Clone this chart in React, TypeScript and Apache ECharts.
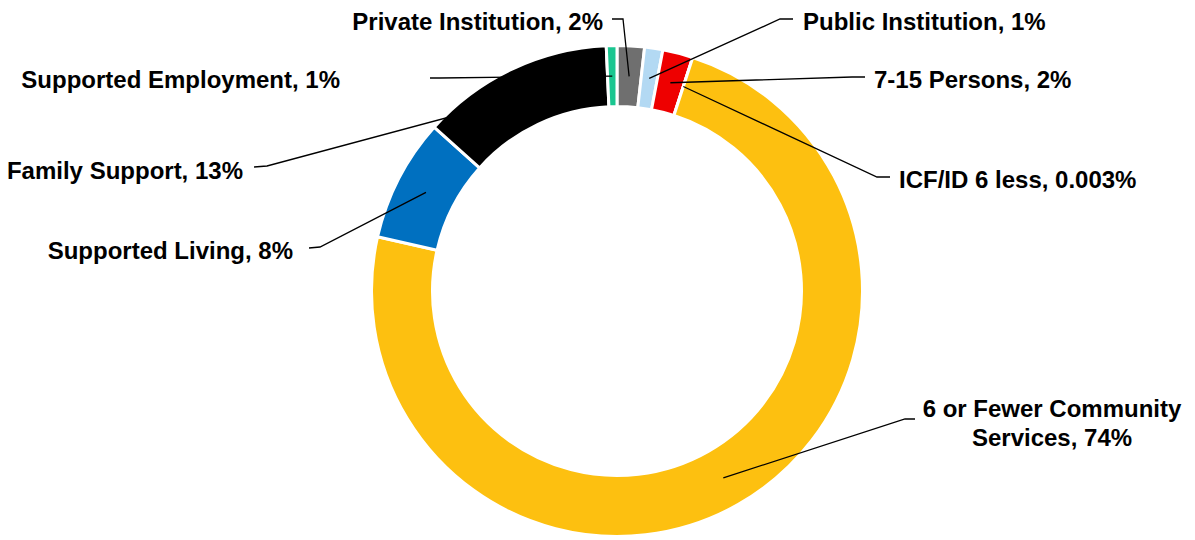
import React, { useEffect, useRef } from 'react';
import * as echarts from 'echarts';

// ---- data ----
const categories = [
  'Private Institution',
  'Public Institution',
  '7-15 Persons',
  'ICF/ID 6 less',
  '6 or Fewer Community Services',
  'Supported Living',
  'Family Support',
  'Supported Employment',
];
// slice shares (percent) as read from the ring
const values = [1.8, 1.2, 2.0, 0.003, 73.7, 8.1, 12.7, 0.7];
// percentages as printed in the labels
const percentLabels = ['2%', '1%', '2%', '0.003%', '74%', '8%', '13%', '1%'];
const colors = ['#6f6f6f', '#b3d9f3', '#ee0000', '#a5a5a5', '#fdc010', '#0070c0', '#000000', '#1ac690'];

// ---- layout (label placement, not data) ----
const CX = 617;
const CY = 291;
const R_IN = 184.5;
const R_OUT = 245.5;
const R_ANCHOR = 215;

type LL = { x: number; y: number; align: string; elbow: number[][]; wrap?: boolean };
const labelLayouts: LL[] = [
  { x: 603, y: 21, align: 'right', elbow: [[623, 19], [612, 19]] },
  { x: 803, y: 21, align: 'left', elbow: [[780, 19], [793, 19]] },
  { x: 874, y: 79, align: 'left', elbow: [[852, 77], [865, 77]] },
  { x: 899, y: 179, align: 'left', elbow: [[877, 177], [890, 177]] },
  { x: 1052, y: 423, align: 'center', elbow: [[905, 419], [915, 419]], wrap: true },
  { x: 293, y: 250, align: 'right', elbow: [[320, 247], [309, 248]] },
  { x: 243, y: 170, align: 'right', elbow: [[267, 166], [254, 167]] },
  { x: 340, y: 79, align: 'right', elbow: [[440, 78], [430, 78]] },
];

function fallbackOuterPoint(i: number): number[] {
  const total = values.reduce((a, b) => a + b, 0);
  let acc = 0;
  for (let j = 0; j < i; j++) acc += values[j];
  const mid = ((acc + values[i] / 2) / total) * Math.PI * 2;
  return [CX + R_OUT * Math.sin(mid), CY - R_OUT * Math.cos(mid)];
}

export default function App() {
  const ref = useRef<HTMLDivElement>(null);
  useEffect(() => {
    if (!ref.current) return;
    const chart = echarts.init(ref.current, undefined, { renderer: 'svg' });
    const font = "'Liberation Sans', Arial, Helvetica, sans-serif";
    const baseData = categories.map((name, i) => ({ name, value: values[i] }));
    chart.setOption({
      animation: false,
      backgroundColor: '#ffffff',
      series: [
        {
          // the ring itself
          type: 'pie',
          z: 1,
          center: [CX, CY],
          radius: [R_IN, R_OUT],
          startAngle: 90,
          clockwise: true,
          silent: true,
          data: baseData.map((d, i) => ({ ...d, itemStyle: { color: colors[i] } })),
          itemStyle: { borderColor: '#ffffff', borderWidth: 3 },
          emphasis: { disabled: true },
          label: { show: false },
          labelLine: { show: false },
        },
        {
          // transparent overlay carrying labels and leader lines above the ring
          type: 'pie',
          z: 5,
          center: [CX, CY],
          radius: [R_IN, R_OUT],
          startAngle: 90,
          clockwise: true,
          silent: true,
          avoidLabelOverlap: false,
          minShowLabelAngle: 0,
          data: baseData,
          itemStyle: { color: 'rgba(0,0,0,0)', borderWidth: 0 },
          emphasis: { disabled: true },
          label: {
            show: true,
            position: 'outside',
            color: '#000000',
            fontFamily: font,
            fontWeight: 'bold',
            fontSize: 24,
            lineHeight: 29,
            formatter: (p: any) => {
              const i = p.dataIndex;
              let name = categories[i];
              if (labelLayouts[i].wrap) name = name.replace('Community ', 'Community\n');
              return `${name}, ${percentLabels[i]}`;
            },
          },
          labelLine: {
            show: true,
            smooth: false,
            length: 10,
            length2: 10,
            lineStyle: { color: '#000000', width: 1.3 },
          },
          labelLayout: (params: any) => {
            const i = params.dataIndex;
            const L = labelLayouts[i];
            const p0 =
              params.labelLinePoints && params.labelLinePoints[0]
                ? params.labelLinePoints[0]
                : fallbackOuterPoint(i);
            const dx = p0[0] - CX;
            const dy = p0[1] - CY;
            const d = Math.hypot(dx, dy) || 1;
            const anchor = [CX + (dx / d) * R_ANCHOR, CY + (dy / d) * R_ANCHOR];
            return {
              x: L.x,
              y: L.y,
              align: L.align,
              verticalAlign: 'middle',
              labelLinePoints: [anchor, L.elbow[0], L.elbow[1]],
            };
          },
        },
      ],
    });
    return () => chart.dispose();
  }, []);
  return (
    <div
      ref={ref}
      style={{ position: 'absolute', left: 0, top: 0, width: 1195, height: 540 }}
    />
  );
}
